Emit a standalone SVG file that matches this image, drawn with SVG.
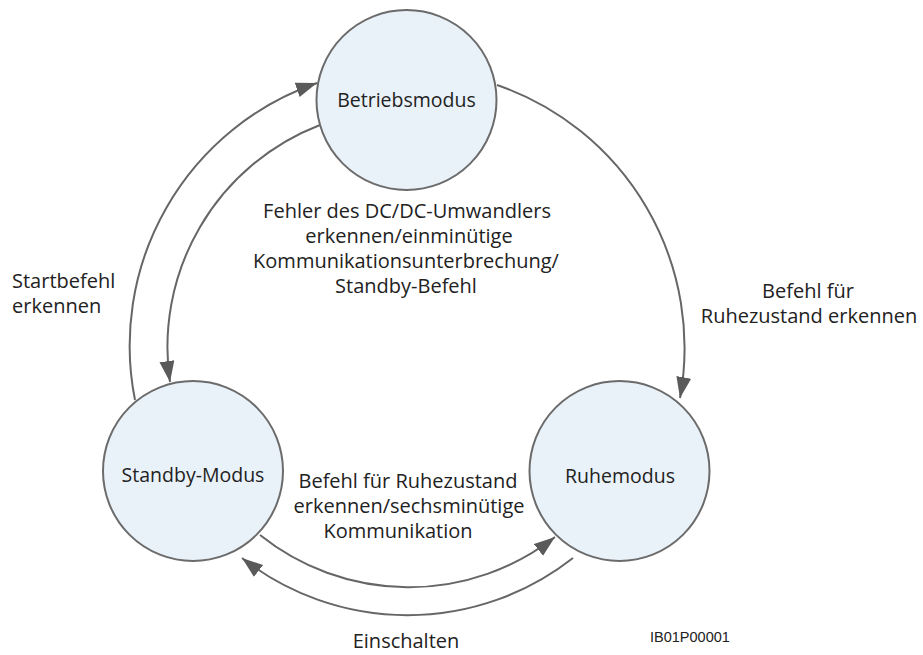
<svg xmlns="http://www.w3.org/2000/svg" width="923" height="655" viewBox="0 0 923 655">
<style>
.node{fill:#EAF2F9;stroke:#6B6B6B;stroke-width:2}
.lbl{font-family:"Open Sans","Noto Sans",sans-serif;font-size:20px;fill:#222;text-anchor:middle}
.nl{font-size:19.5px}
.edge{fill:none;stroke:#666;stroke-width:2}
.tag{font-family:"Liberation Sans",sans-serif;font-size:14.5px;fill:#222}
</style>
<defs>
<marker id="arr" markerWidth="22" markerHeight="16" refX="21" refY="7.5" orient="auto" markerUnits="userSpaceOnUse">
<path d="M0,0 L21,7.5 L0,15 z" fill="#5A5A5A"/>
</marker>
</defs>
<rect width="923" height="655" fill="#fff"/>
<g id="connectors">
<path class="edge" d="M135,400 A278,278 0 0 1 317,83" marker-end="url(#arr)"/>
<path class="edge" d="M497,85 A278,278 0 0 1 680,398" marker-end="url(#arr)"/>
<path class="edge" d="M320,125 A238,238 0 0 0 170,382" marker-end="url(#arr)"/>
<path class="edge" d="M260,535 A238,238 0 0 0 555,537" marker-end="url(#arr)"/>
<path class="edge" d="M573,558 A268,268 0 0 1 242,558" marker-end="url(#arr)"/>
</g>
<g id="betriebsmodus">
<circle class="node" cx="406.5" cy="100" r="90"/>
<text class="lbl nl" x="406.5" y="107">Betriebsmodus</text>
</g>
<g id="standby-modus">
<circle class="node" cx="193" cy="471" r="90"/>
<text class="lbl nl" x="193" y="482">Standby-Modus</text>
</g>
<g id="ruhemodus">
<circle class="node" cx="619.5" cy="471" r="90"/>
<text class="lbl nl" x="620" y="483">Ruhemodus</text>
</g>
<g id="labels">
<text class="lbl" x="407" y="218">Fehler des DC/DC-Umwandlers</text>
<text class="lbl" x="409" y="243">erkennen/einminütige</text>
<text class="lbl" x="406" y="268">Kommunikationsunterbrechung/</text>
<text class="lbl" x="406" y="293">Standby-Befehl</text>
<text class="lbl" x="12" y="288" style="text-anchor:start">Startbefehl</text>
<text class="lbl" x="12" y="313" style="text-anchor:start">erkennen</text>
<text class="lbl" x="808" y="298">Befehl für</text>
<text class="lbl" x="809" y="323">Ruhezustand erkennen</text>
<text class="lbl" x="408" y="488">Befehl für Ruhezustand</text>
<text class="lbl" x="409" y="513">erkennen/sechsminütige</text>
<text class="lbl" x="398" y="538">Kommunikation</text>
<text class="lbl" x="406" y="648">Einschalten</text>
<text class="tag" x="650" y="642">IB01P00001</text>
</g>
</svg>
